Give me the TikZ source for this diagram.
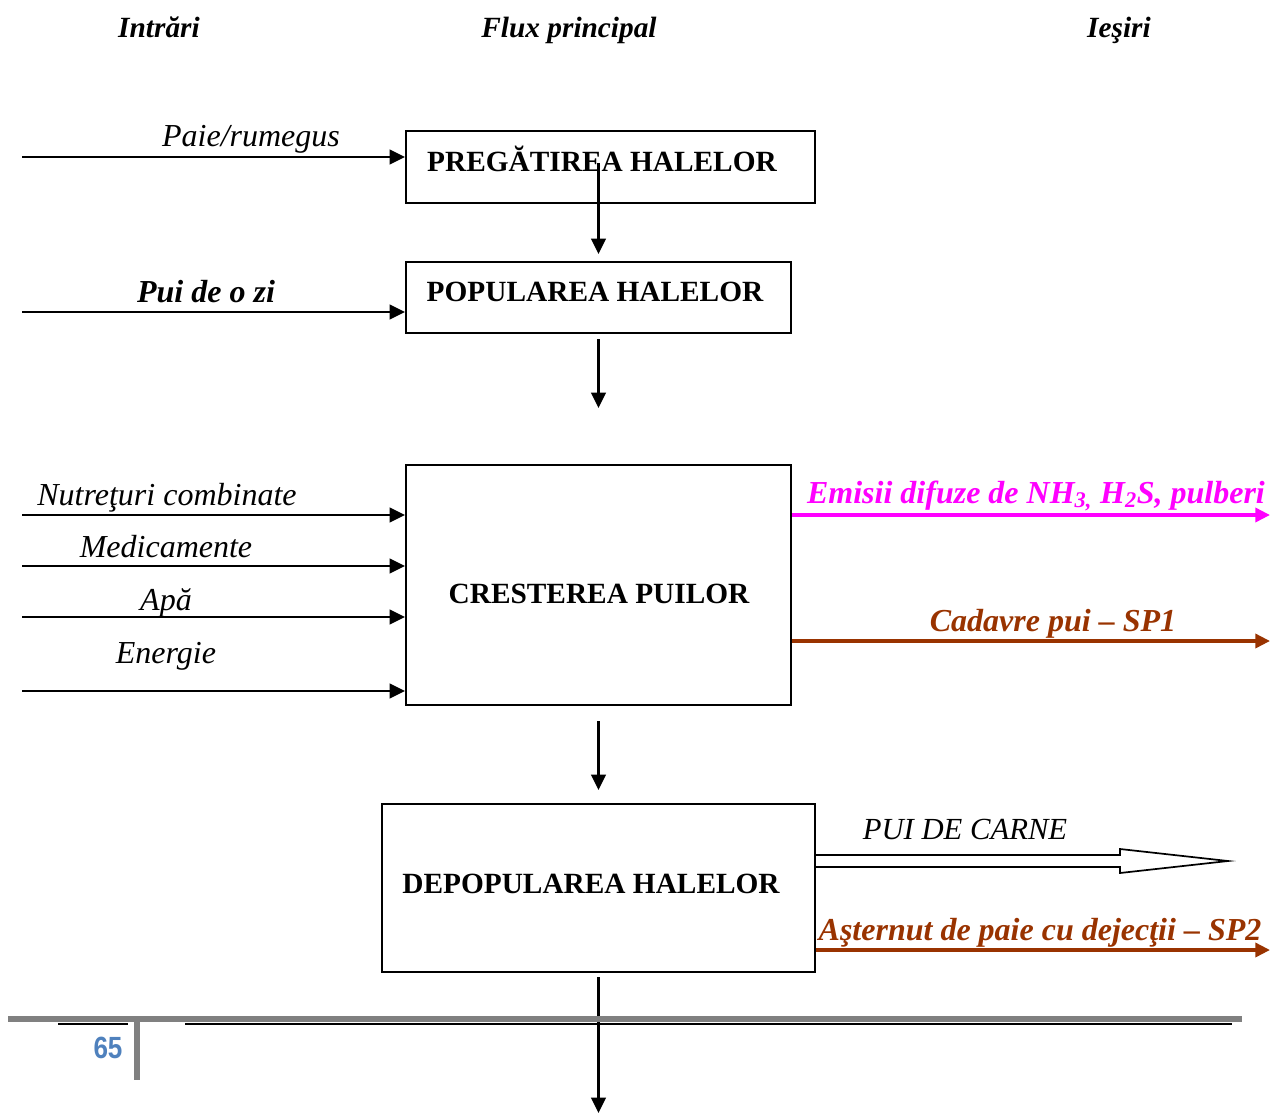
\documentclass[tikz,border=0pt]{standalone}
\usepackage{fontspec}
\setmainfont{Liberation Serif}
\newfontfamily\pgnumfont{Liberation Sans}
\usetikzlibrary{arrows.meta}
\definecolor{mag}{RGB}{255,0,255}
\definecolor{brn}{RGB}{153,51,0}
\definecolor{pgray}{RGB}{128,128,128}
\definecolor{pblue}{RGB}{79,129,189}
\begin{document}
\begin{tikzpicture}[x=0.75pt,y=-0.75pt,
  box/.style={draw, line width=1.5pt, inner sep=0pt},
  boxtext/.style={anchor=base, inner sep=0pt, font=\fontsize{22}{26}\selectfont\bfseries},
  head/.style={anchor=base, inner sep=0pt, font=\fontsize{22}{26}\selectfont\bfseries\itshape},
  inlab/.style={anchor=base, inner sep=0pt, font=\fontsize{24}{28}\selectfont\itshape},
  outlab/.style={anchor=base, inner sep=0pt, font=\fontsize{24}{28}\selectfont\bfseries\itshape},
  arr/.style={line width=1.7pt, -{Triangle[length=11.5pt,width=11pt]}},
  carr/.style={line width=2.6pt, -{Triangle[length=11pt,width=10.5pt]}},
]
\useasboundingbox (0,0) rectangle (1270,1114);

% headers
\node[head] (h1) at (159,37) {Intrări};
\node[head] (h2) at (569,37) {Flux principal};
\node[head] (h3) at (1119,37) {Ieşiri};

% boxes
\node[box, minimum width=306.75pt, minimum height=54pt] (b1) at (610.5,167) {};
\node[box, minimum width=288.75pt, minimum height=53.25pt] (b2) at (598.5,297.5) {};
\node[box, minimum width=288.75pt, minimum height=180pt] (b3) at (598.5,585) {};
\node[box, minimum width=324.75pt, minimum height=126pt] (b4) at (598.5,888) {};

\node[boxtext] (t1) at (602,171) {PREGĂTIREA HALELOR};
\node[boxtext] (t2) at (595,301) {POPULAREA HALELOR};
\node[boxtext] (t3) at (599,603) {CRESTEREA PUILOR};
\node[boxtext] (t4) at (591,893) {DEPOPULAREA HALELOR};

% main flow
\coordinate (a1s) at (598.5,163);
\draw[arr, shorten >=5.25pt] (a1s) -- (b2.north);
\coordinate (a2e) at (598.5,408);
\draw[arr] ([yshift=-3.75pt]b2.south) -- (a2e);
\draw[arr] ([yshift=-11.25pt]b3.south) -- ([yshift=9.75pt]b4.north);
\coordinate (a4e) at (598.5,1113);
\draw[arr] ([yshift=-3pt]b4.south) -- (a4e);

% inputs
\coordinate (i1) at (22,157);
\coordinate (i2) at (22,312);
\coordinate (i3) at (22,515);
\coordinate (i4) at (22,566);
\coordinate (i5) at (22,617);
\coordinate (i6) at (22,691);
\draw[arr] (i1) -- (i1 -| b1.west);
\draw[arr] (i2) -- (i2 -| b2.west);
\draw[arr] (i3) -- (i3 -| b3.west);
\draw[arr] (i4) -- (i4 -| b3.west);
\draw[arr] (i5) -- (i5 -| b3.west);
\draw[arr] (i6) -- (i6 -| b3.west);

\node[inlab] (l1) at (251,146) {Paie/rumegus};
\node[outlab] (l2) at (206,302) {Pui de o zi};
\node[inlab] (l3) at (167,505) {Nutreţuri combinate};
\node[inlab] (l4) at (166,557) {Medicamente};
\node[inlab] (l5) at (166,610) {Apă};
\node[inlab] (l6) at (166,663) {Energie};

% outputs
\coordinate (o1) at (1270,515);
\coordinate (o2) at (1270,641);
\coordinate (o4) at (1270,950);
\draw[carr, mag] (o1 -| b3.east) -- (o1);
\draw[carr, brn] (o2 -| b3.east) -- (o2);
\draw[carr, brn] (o4 -| b4.east) -- (o4);

\node[outlab, text=mag] (m1) at (1036,503) {Emisii difuze de NH\textsubscript{3,} H\textsubscript{2}S, pulberi};
\node[outlab, text=brn] (m2) at (1053,631) {Cadavre pui – SP1};
\node[outlab, text=brn] (m4) at (1040,940) {Aşternut de paie cu dejecţii – SP2};

% hollow arrow
\coordinate (pc) at (1228,861);
\draw[line width=1.3pt, fill=white] (pc -| b4.east) ++(0,-6) -- (1120,855) -- (1120,849) -- (pc) -- (1120,873) -- (1120,867) -- ([yshift=-4.5pt]pc -| b4.east);
\node[inlab, font=\fontsize{23}{27}\selectfont\itshape] (m3) at (965,839) {PUI DE CARNE};

% footer
\draw[pgray, line width=4.5pt] (8,1019) -- (1242,1019);
\draw[black, line width=1.6pt] (58,1024) -- (128,1024);
\draw[black, line width=1.6pt] (185,1024) -- (1232,1024);
\draw[pgray, line width=4pt] (137,1022) -- (137,1080);
\node[anchor=base, inner sep=0pt, text=pblue, font=\pgnumfont\fontsize{23}{26}\selectfont\bfseries, xscale=0.85] (pg) at (108,1058) {65};
\end{tikzpicture}
\end{document}
